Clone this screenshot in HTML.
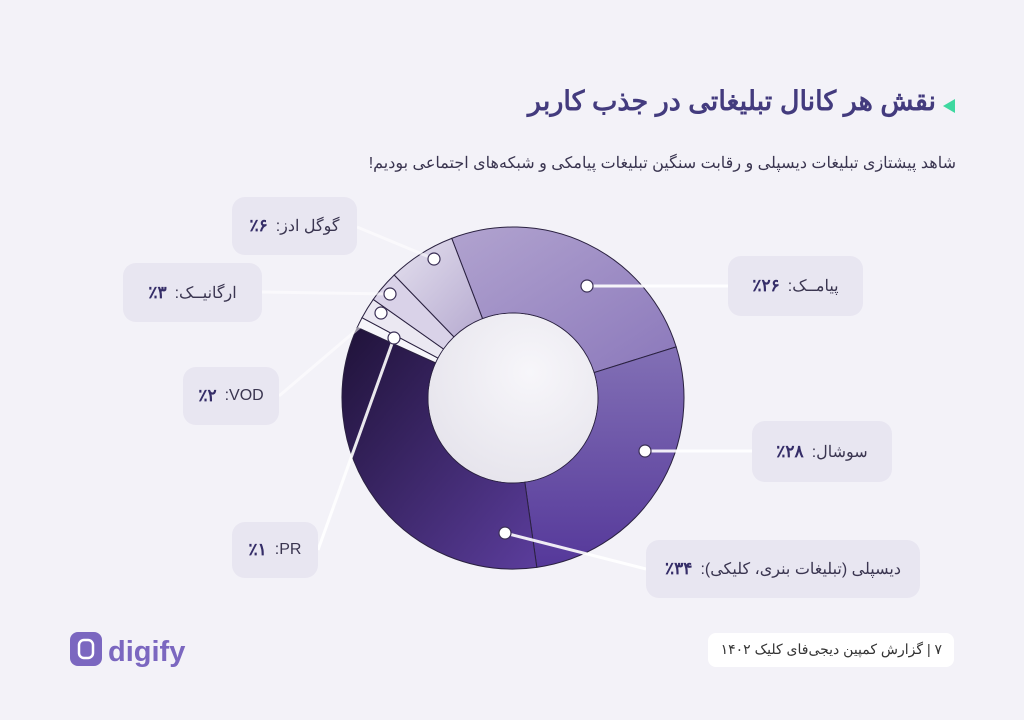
<!DOCTYPE html>
<html><head><meta charset="utf-8"><style>
body{margin:0;width:1024px;height:720px;background:#f3f2f8;font-family:"Liberation Sans","Noto Sans CJK SC",sans-serif;overflow:hidden;position:relative}
.t{position:absolute;direction:rtl;white-space:nowrap}
.box{position:absolute;background:#e8e6f1;border-radius:13px;direction:rtl;display:flex;align-items:center;justify-content:center;font-size:16px;color:#3a3550;gap:8px}
.box b{color:#352d68;font-size:17px}
</style></head><body>
<div class="t" style="right:88px;top:86px;font-size:27px;font-weight:bold;color:#433b7e">نقش هر کانال تبلیغاتی در جذب کاربر</div>
<div style="position:absolute;left:943px;top:99px;width:0;height:0;border-top:7px solid transparent;border-bottom:7px solid transparent;border-right:12px solid #3ed8a0"></div>
<div class="t" style="right:68px;top:153px;font-size:16px;color:#3a3550">شاهد پیشتازی تبلیغات دیسپلی و رقابت سنگین تبلیغات پیامکی و شبکه‌های اجتماعی بودیم!</div>
<svg id="s" width="1024" height="720" style="position:absolute;left:0;top:0">
<defs>
<linearGradient id="g1" x1="0" y1="0" x2="1" y2="1"><stop offset="0" stop-color="#b1a3cf"/><stop offset="1" stop-color="#8b78bb"/></linearGradient>
<linearGradient id="g2" x1="0" y1="0" x2="0" y2="1"><stop offset="0" stop-color="#8270b5"/><stop offset="1" stop-color="#55389a"/></linearGradient>
<linearGradient id="g3" x1="0" y1="0" x2="1" y2="1"><stop offset="0" stop-color="#1f1238"/><stop offset="1" stop-color="#5b3d9c"/></linearGradient>
<linearGradient id="g4" x1="0" y1="0" x2="1" y2="1"><stop offset="0" stop-color="#e4e0ee"/><stop offset="1" stop-color="#b6aad0"/></linearGradient>
<radialGradient id="gi" cx="0.6" cy="0.35" r="0.7"><stop offset="0" stop-color="#f7f6fa"/><stop offset="1" stop-color="#e6e4ec"/></radialGradient>
</defs>
<g id="d"></g>
<g stroke="#fff" stroke-width="3" fill="none" opacity="0.9">
<line x1="587" y1="286" x2="728" y2="286"/>
<line x1="645" y1="451" x2="752" y2="451"/>
<line x1="505" y1="533" x2="646" y2="569"/>
<line x1="434" y1="259" x2="357" y2="227" stroke-opacity="0.6"/>
<line x1="390" y1="294" x2="262" y2="292" stroke-opacity="0.6"/>
<line x1="360" y1="327" x2="279" y2="396" stroke-opacity="0.6"/>
<line x1="394" y1="338" x2="318" y2="550"/>
</g>
<g fill="none" stroke="#3a2f55" stroke-width="1.2">
<circle cx="587" cy="286" r="6" fill="#fff"/>
<circle cx="645" cy="451" r="6" fill="#fff"/>
<circle cx="505" cy="533" r="6" fill="#fff"/>
<circle cx="434" cy="259" r="6" fill="#fff"/>
<circle cx="390" cy="294" r="6" fill="#fff"/>
<circle cx="381" cy="313" r="6" fill="#fff"/>
<circle cx="394" cy="338" r="6" fill="#fff"/>
</g>
<rect x="70" y="632" width="32" height="34" rx="8" fill="#7b67c0"/>
<rect x="79" y="640" width="14" height="18" rx="5" fill="none" stroke="#fff" stroke-width="2.5"/>
<text x="108" y="661" font-family="Liberation Sans" font-weight="bold" font-size="29" fill="#7b67c0">digify</text>
</svg>
<div class="box" style="left:232px;top:197px;width:125px;height:58px">گوگل ادز: <b>٪۶</b></div>
<div class="box" style="left:123px;top:263px;width:139px;height:59px">ارگانیــک: <b>٪۳</b></div>
<div class="box" style="left:183px;top:367px;width:96px;height:58px">VOD: <b>٪۲</b></div>
<div class="box" style="left:232px;top:522px;width:86px;height:56px">PR: <b>٪۱</b></div>
<div class="box" style="left:728px;top:256px;width:135px;height:60px">پیامــک: <b>٪۲۶</b></div>
<div class="box" style="left:752px;top:421px;width:140px;height:61px">سوشال: <b>٪۲۸</b></div>
<div class="box" style="left:646px;top:540px;width:274px;height:58px">دیسپلی (تبلیغات بنری، کلیکی): <b>٪۳۴</b></div>
<div style="position:absolute;left:708px;top:633px;width:246px;height:34px;background:#fff;border-radius:8px"></div>
<div class="t" style="right:82px;top:641px;font-size:14px;color:#333">۷ | گزارش کمپین دیجی‌فای کلیک ۱۴۰۲</div>
<script>
var cx=513,cy=398,R=171,r=85;
var sl=[[-21,72.6,"url(#g1)"],[72.6,172,"url(#g2)"],[172,294.4,"url(#g3)"],[294.4,298,"#f6f5fa"],[298,305.2,"#ebe8f2"],[305.2,316,"#d9d2e8"],[316,339,"url(#g4)"]];
function p(a,rad){a=(a-90)*Math.PI/180;return [cx+rad*Math.cos(a),cy+rad*Math.sin(a)];}
var h="";
sl.forEach(function(s){var a=p(s[0],R),b=p(s[1],R),c=p(s[1],r),d=p(s[0],r),L=(s[1]-s[0])>180?1:0;
h+='<path d="M'+a+' A'+R+' '+R+' 0 '+L+' 1 '+b+' L'+c+' A'+r+' '+r+' 0 '+L+' 0 '+d+' Z" fill="'+s[2]+'" stroke="#2a2140" stroke-width="1"/>';});
h+='<circle cx="'+cx+'" cy="'+cy+'" r="'+(r-0.5)+'" fill="url(#gi)"/>';
document.getElementById("d").innerHTML=h;
</script>
</body></html>
